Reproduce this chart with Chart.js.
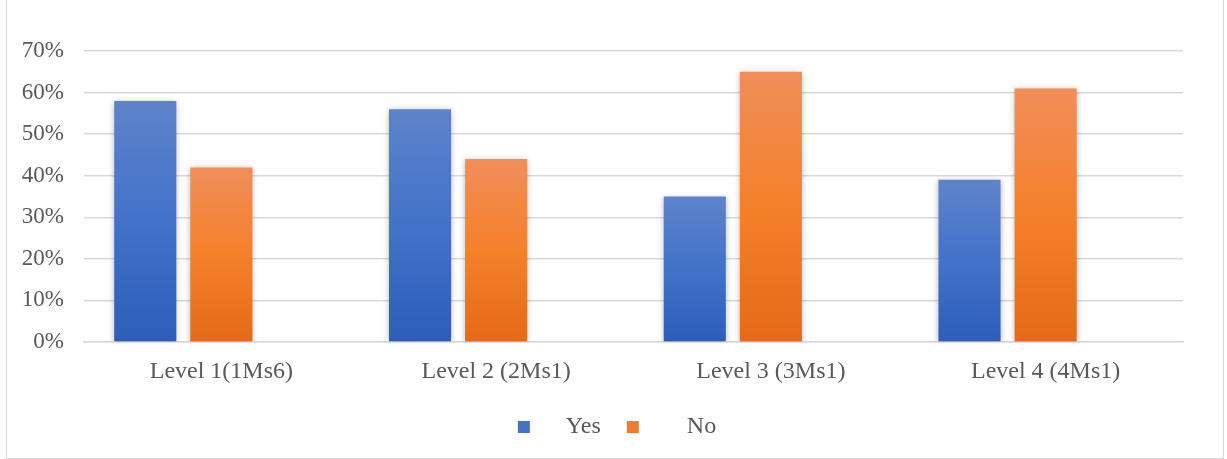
<!DOCTYPE html>
<html>
<head>
<meta charset="utf-8">
<script src="https://cdn.jsdelivr.net/npm/chart.js@4/dist/chart.umd.min.js"></script>
<style>
  html, body { margin: 0; padding: 0; background: #fff; }
  #frame { position: absolute; left: 6px; top: 0; width: 1216px; height: 458px; border: 1px solid #d9d9d9; border-top: none; }
  #wrap { position: relative; width: 1216px; height: 458px; }
</style>
</head>
<body>
<div id="frame"><div id="wrap"><canvas id="myChart"></canvas></div></div>
<script>
// values (percent)
const categories = ["Level 1(1Ms6)", "Level 2 (2Ms1)", "Level 3 (3Ms1)", "Level 4 (4Ms1)"];
const yesValues = [58, 56, 35, 39];
const noValues = [42, 44, 65, 61];
const blankValues = [null, null, null, null]; // empty third series slot, as in the original
const yMax = 70;
const yStep = 10;

const FONT = "'Liberation Serif', 'Times New Roman', serif";
const TEXT = "#595959";

function barGradient(top, mid, bottom) {
  return function (c) {
    const chart = c.chart;
    const area = chart.chartArea;
    if (!area || c.raw == null) return mid;
    const y = chart.scales.y;
    const y0 = y.getPixelForValue(c.raw);
    const y1 = y.getPixelForValue(0);
    const g = chart.ctx.createLinearGradient(0, y0, 0, y1);
    g.addColorStop(0, top);
    g.addColorStop(0.5, mid);
    g.addColorStop(1, bottom);
    return g;
  };
}

const shadowPlugin = {
  id: "barShadow",
  beforeDatasetsDraw(chart) {
    const ctx = chart.ctx;
    ctx.save();
    ctx.shadowColor = "rgba(0,0,0,0.28)";
    ctx.shadowBlur = 6;
    ctx.shadowOffsetX = 0;
    ctx.shadowOffsetY = 1;
  },
  afterDatasetsDraw(chart) {
    chart.ctx.restore();
  }
};

const legendColors = ["#4472c4", "#f07d2e"];
// spacing inside the legend text, Excel leaves a wide gap after the marker
const legendText = ["    Yes", "      No "];

const ctx = document.getElementById("myChart").getContext("2d");
const chart = new Chart(ctx, {
  type: "bar",
  data: {
    labels: categories,
    datasets: [
      {
        label: "Yes",
        data: yesValues,
        backgroundColor: barGradient("rgb(94,131,202)", "rgb(66,114,201)", "rgb(45,94,184)")
      },
      {
        label: "No",
        data: noValues,
        backgroundColor: barGradient("rgb(240,142,90)", "rgb(245,128,42)", "rgb(228,106,24)")
      },
      {
        label: "",
        data: blankValues,
        backgroundColor: "rgba(0,0,0,0)"
      }
    ]
  },
  plugins: [shadowPlugin],
  options: {
    responsive: true,
    maintainAspectRatio: false,
    animation: false,
    categoryPercentage: 0.831,
    barPercentage: 0.816,
    layout: { padding: { left: 0, right: 40, top: 51, bottom: 9 } },
    plugins: {
      tooltip: { enabled: false },
      legend: {
        position: "bottom",
        labels: {
          color: TEXT,
          font: { family: FONT, size: 24 },
          boxWidth: 12,
          boxHeight: 12,
          padding: 26,
          // blank series goes first as an invisible spacer, like the empty entry in the original
          generateLabels: (chart) => {
            const items = chart.data.datasets.map((ds, i) => ({
              text: ds.label ? legendText[i] : "",
              fillStyle: legendColors[i] || "rgba(0,0,0,0)",
              strokeStyle: "rgba(0,0,0,0)",
              lineWidth: 0,
              fontColor: TEXT,
              datasetIndex: i
            }));
            return [items[2], items[0], items[1]];
          }
        }
      }
    },
    scales: {
      x: {
        afterFit: (s) => { s.height = 47; },
        grid: { display: false, drawTicks: false },
        border: { display: true, color: "#d9d9d9", width: 1.5 },
        ticks: { color: TEXT, font: { family: FONT, size: 24 }, padding: 15, maxRotation: 0 }
      },
      y: {
        min: 0,
        max: yMax,
        afterFit: (s) => { s.width = 77; },
        grid: { color: "#d9d9d9", lineWidth: 1.5, drawTicks: false },
        border: { display: false },
        ticks: {
          stepSize: yStep,
          color: TEXT,
          font: { family: FONT, size: 23 },
          padding: 20,
          callback: (v) => v + "%"
        }
      }
    }
  }
});
</script>
</body>
</html>
